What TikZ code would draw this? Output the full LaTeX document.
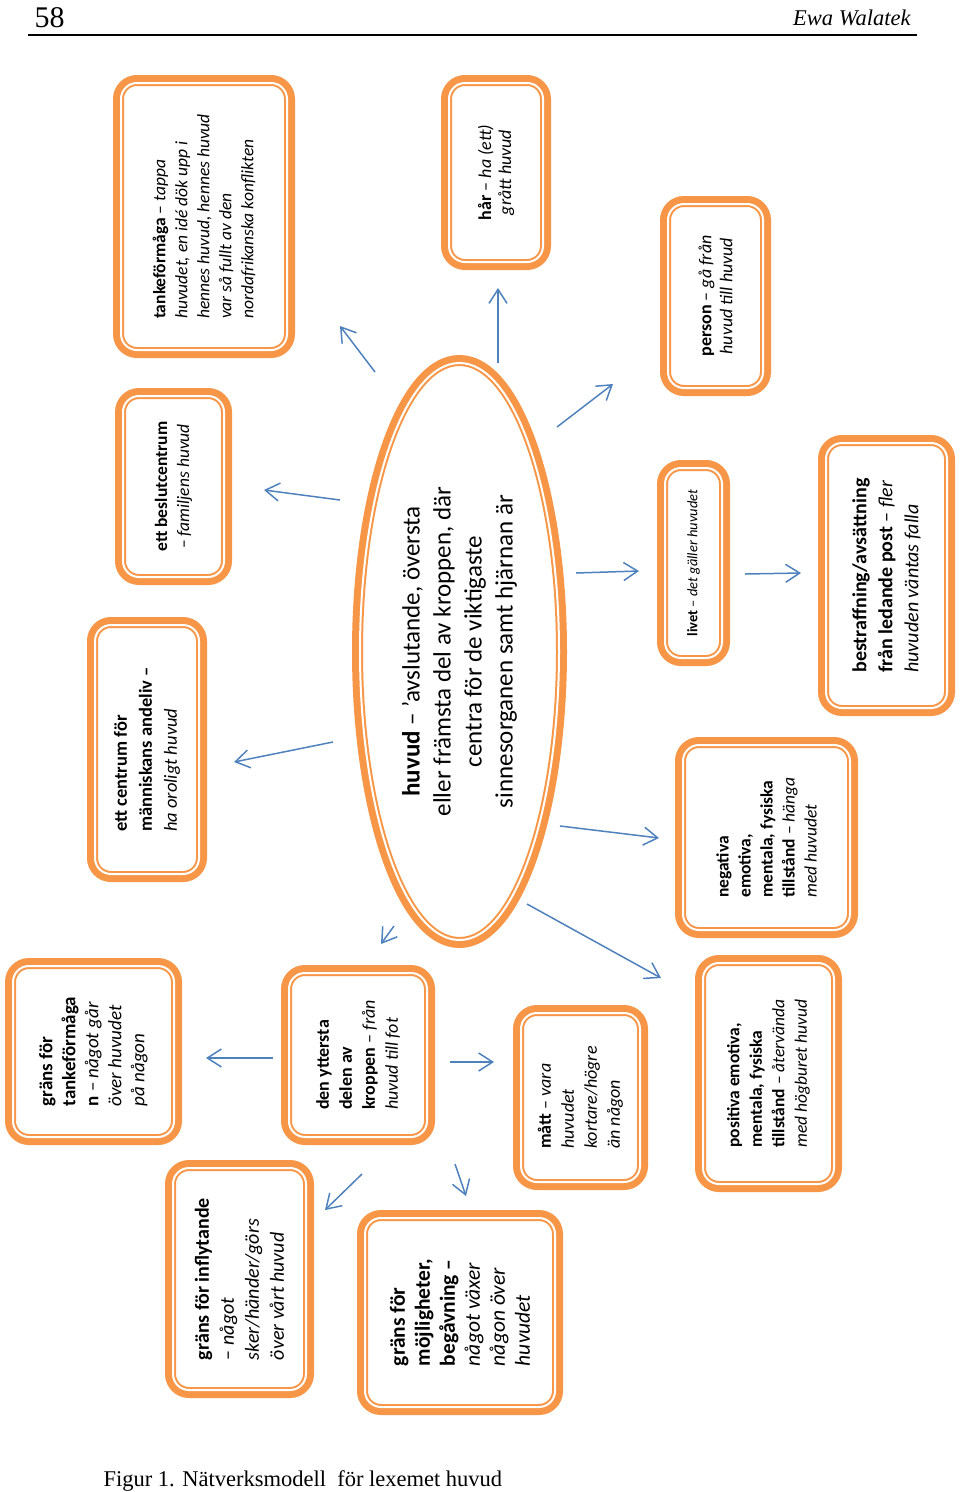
\documentclass[tikz,border=0pt]{standalone}
\usepackage{fontspec}
\setmainfont{Carlito}
\newfontfamily\timesfont{Liberation Serif}
\usetikzlibrary{arrows.meta,shapes.geometric}
\definecolor{boxorange}{HTML}{F79646}
\definecolor{arrowblue}{HTML}{4F81BD}

\begin{document}
\begin{tikzpicture}[x = 1pt, y = -1pt,
                        ring/.style = {fill = white, draw = boxorange, line width = 2pt, double = white,
                                       double distance = 2pt, preaction = {draw = boxorange, line width = 16pt}},
                        box/.style = {ring, rectangle, rounded corners = 16pt, rotate = 90, inner sep = 0pt},
                        oval/.style = {ring, ellipse, rotate = 90, inner sep = 0pt},
                        arr/.style = {draw = arrowblue, line width = 1.5pt, -{Straight Barb[length = 14pt, width = 18pt]}}]
      \useasboundingbox (0, 0) rectangle (960, 1492);
      \node [anchor = base west, font = \timesfont\fontsize{30}{30}\selectfont] (pg) at (31, 27){58};
      \node [anchor = base east, font = \timesfont\itshape\fontsize{22.5}{22.5}\selectfont] (au) at (914, 25){Ewa Walatek};
      \draw [line width = 1.5pt] (28, 35) -- (917, 35);
      \node [oval, font = \fontsize{25}{31}\selectfont, align = center, minimum width = 577pt, minimum height = 199pt] (c) at (459.5, 651.5)
        {\textbf{huvud} – ’avslutande, översta\\ eller främsta del av kroppen, där\\ centra för de viktigaste\\ sinnesorganen samt hjärnan är};
      \node [box, font = \fontsize{17.5}{22}\selectfont, align = left, minimum width = 267pt, minimum height = 166pt] (b1) at (204, 216.5)
        {\textbf{tankeförmåga} – \textit{tappa}\\ \textit{huvudet, en idé dök upp i}\\ \textit{hennes huvud, hennes huvud}\\ \textit{var så fullt av den}\\ \textit{nordafrikanska konflikten}};
      \node [box, font = \fontsize{17.5}{22}\selectfont, align = center, minimum width = 181pt, minimum height = 101pt] (b2) at (173.5, 486.5)
        {\textbf{ett beslutcentrum}\\ – \textit{familjens huvud}};
      \node [box, font = \fontsize{18.5}{25}\selectfont, align = left, minimum width = 249pt, minimum height = 104pt] (b3) at (147, 749.5)
        {\textbf{ett centrum för}\\ \textbf{människans andeliv –}\\ \textit{ha oroligt huvud}};
      \node [box, font = \fontsize{18}{20}\selectfont, align = center, minimum width = 179pt, minimum height = 94pt] (b4) at (496, 172.5)
        {\textbf{hår} – \textit{ha (ett)}\\ \textit{grått huvud}};
      \node [box, font = \fontsize{18}{21}\selectfont, align = center, minimum width = 184pt, minimum height = 95pt] (b5) at (715.5, 296)
        {\textbf{person} – \textit{gå från}\\ \textit{huvud till huvud}};
      \node [box, font = \fontsize{14.5}{16}\selectfont, align = center, minimum width = 190pt, minimum height = 57pt] (b6) at (693.5, 563)
        {\textbf{livet} – \textit{det gäller huvudet}};
      \node [box, font = \fontsize{20}{26}\selectfont, align = left, minimum width = 265pt, minimum height = 121pt] (b7) at (886.5, 575.5)
        {\textbf{bestraffning/avsättning}\\ \textbf{från ledande post} – \textit{fler}\\ \textit{huvuden väntas falla}};
      \node [box, font = \fontsize{17.5}{22}\selectfont, align = left, minimum width = 185pt, minimum height = 167pt] (b8) at (766.5, 837.5)
        {\textbf{negativa}\\ \textbf{emotiva,}\\ \textbf{mentala, fysiska}\\ \textbf{tillstånd} – \textit{hänga}\\ \textit{med huvudet}};
      \node [box, font = \fontsize{17.5}{22.5}\selectfont, align = left, minimum width = 221pt, minimum height = 131pt] (b9) at (768.5, 1073.5)
        {\textbf{positiva emotiva,}\\ \textbf{mentala, fysiska}\\ \textbf{tillstånd} – \textit{återvända}\\ \textit{med högburet huvud}};
      \node [box, font = \fontsize{19}{23}\selectfont, align = left, minimum width = 171pt, minimum height = 161pt] (b10) at (93.5, 1051.5)
        {\textbf{gräns för}\\ \textbf{tankeförmåga}\\ \textbf{n} – \textit{något går}\\ \textit{över huvudet}\\ \textit{på någon}};
      \node [box, font = \fontsize{20}{25}\selectfont, align = left, minimum width = 222pt, minimum height = 133pt] (b11) at (239.5, 1279)
        {\textbf{gräns för inflytande}\\ – \textit{något}\\ \textit{sker/händer/görs}\\ \textit{över vårt huvud}};
      \node [box, font = \fontsize{18}{23}\selectfont, align = left, minimum width = 164pt, minimum height = 138pt] (b12) at (358, 1055)
        {\textbf{den yttersta}\\ \textbf{delen av}\\ \textbf{kroppen} – \textit{från}\\ \textit{huvud till fot}};
      \node [box, font = \fontsize{18}{23}\selectfont, align = left, minimum width = 169pt, minimum height = 119pt] (b13) at (580.5, 1097.5)
        {\textbf{mått} – \textit{vara}\\ \textit{huvudet}\\ \textit{kortare/högre}\\ \textit{än någon}};
      \node [box, font = \fontsize{21.5}{25}\selectfont, align = left, minimum width = 189pt, minimum height = 190pt] (b14) at (460, 1312.5)
        {\textbf{gräns för}\\ \textbf{möjligheter,}\\ \textbf{begåvning –}\\ \textit{något växer}\\ \textit{någon över}\\ \textit{huvudet}};
      \coordinate (p1) at (375, 372);   \coordinate (q1) at (340, 326);
      \coordinate (p2) at (340, 500);   \coordinate (q2) at (264, 490);
      \coordinate (p3) at (333, 742);   \coordinate (q3) at (234, 762);
      \coordinate (p4) at (498, 363);   \coordinate (q4) at (498, 288);
      \coordinate (p5) at (557, 427);   \coordinate (q5) at (613, 384);
      \coordinate (p6) at (576, 573);   \coordinate (q6) at (639, 571);
      \coordinate (p7) at (745, 574);   \coordinate (q7) at (801, 573);
      \coordinate (p8) at (560, 826);   \coordinate (q8) at (659, 838);
      \coordinate (p9) at (527, 904);   \coordinate (q9) at (661, 978);
      \coordinate (p10) at (394, 926);  \coordinate (q10) at (381, 944);
      \coordinate (p11) at (273, 1058); \coordinate (q11) at (206, 1058);
      \coordinate (p12) at (450, 1062); \coordinate (q12) at (494, 1062);
      \coordinate (p13) at (362, 1174); \coordinate (q13) at (325, 1210);
      \coordinate (p14) at (455, 1164); \coordinate (q14) at (466, 1196);
      \foreach \i in {1, ..., 14}
        \draw [arr] (p\i) -- (q\i);
      \node [anchor = base west, font = \timesfont\fontsize{22.5}{22.5}\selectfont] (cap) at (100, 1486){Figur 1. Nätverksmodell\ \ för lexemet huvud};
    \end{tikzpicture}
\end{document}
